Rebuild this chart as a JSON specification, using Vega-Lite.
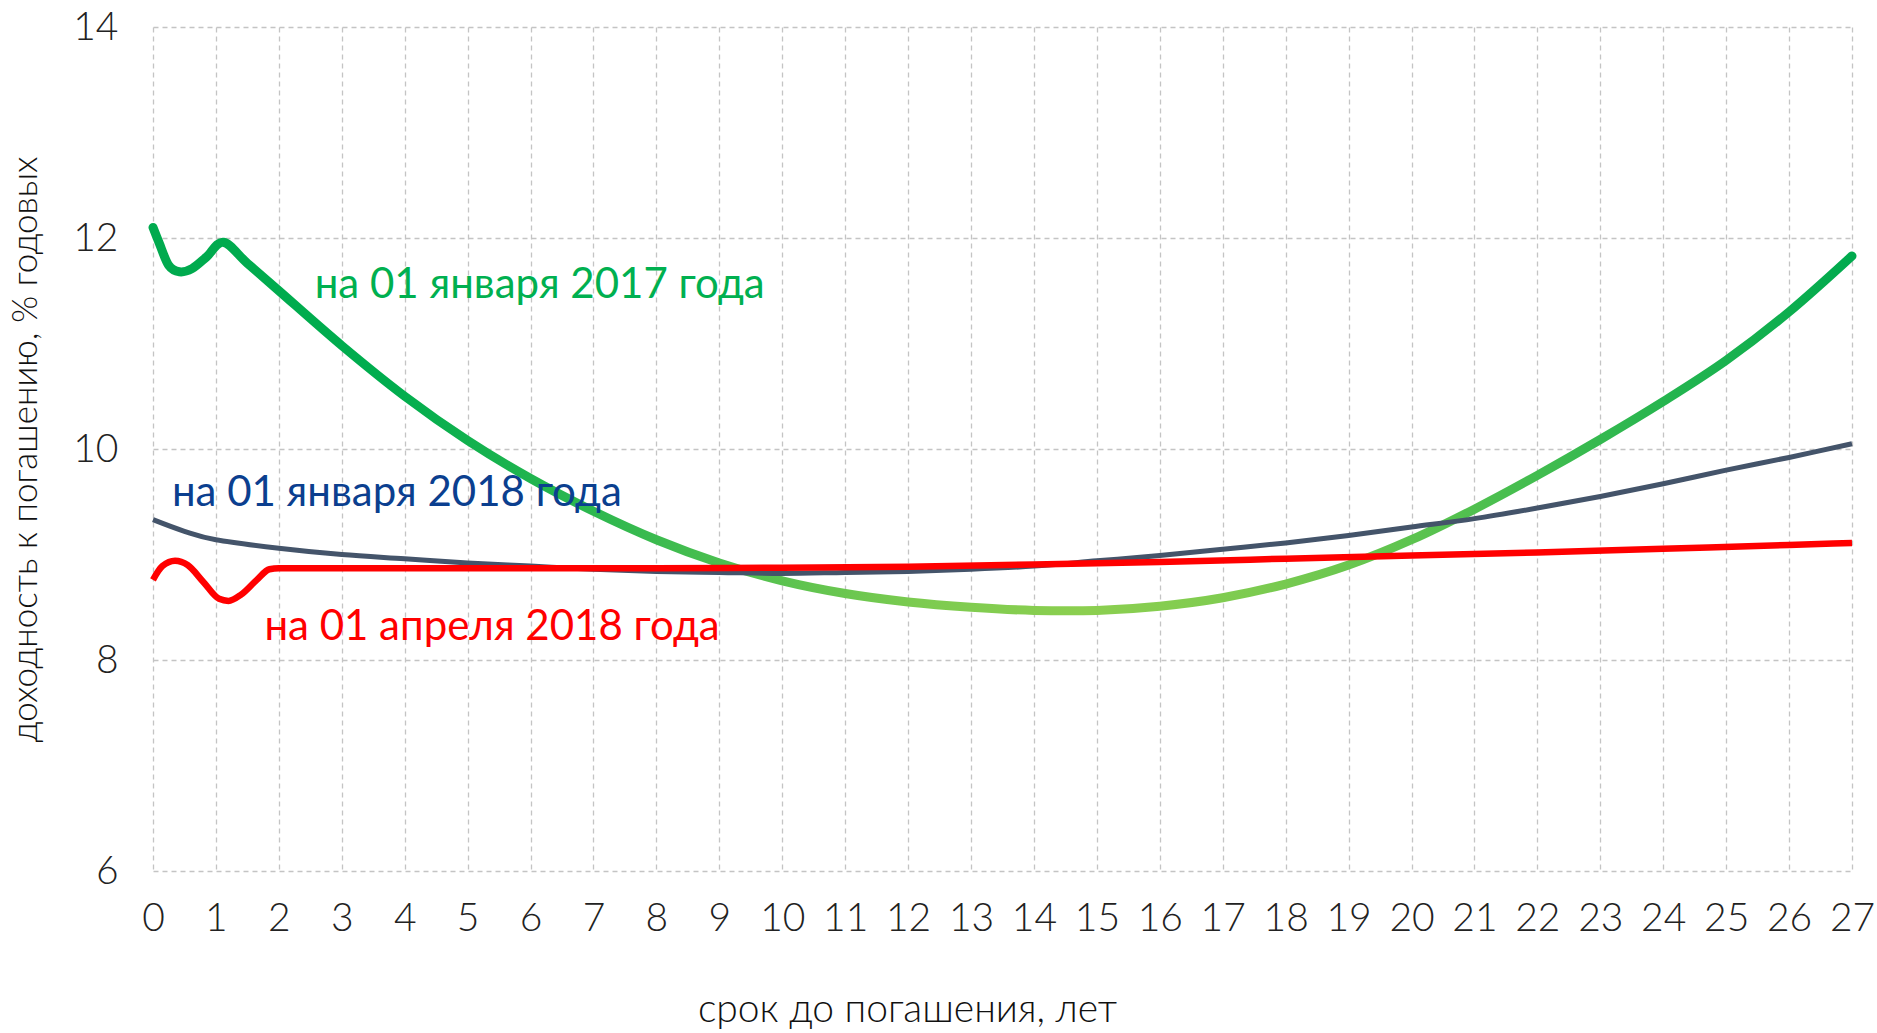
{
  "$schema": "https://vega.github.io/schema/vega-lite/v6.json",
  "width": 1699,
  "height": 844,
  "autosize": "none",
  "padding": {"left": 153, "top": 27, "right": 25, "bottom": 162},
  "background": "white",
  "config": {
    "view": {"stroke": null},
    "axis": {
      "domain": false,
      "ticks": false,
      "grid": true,
      "gridColor": "#c4c4c4",
      "gridDash": [5, 4],
      "gridWidth": 1.3,
      "labelFont": "Lato",
      "labelFontWeight": 300,
      "labelFontSize": 39,
      "labelColor": "#222222",
      "titleFont": "Lato",
      "titleFontWeight": 300,
      "titleColor": "#111111"
    }
  },
  "datasets": {
    "curves": [
      {"series": "2017", "t": 0, "y": 12.1},
      {"series": "2017", "t": 0.1, "y": 11.95},
      {"series": "2017", "t": 0.25, "y": 11.74},
      {"series": "2017", "t": 0.42, "y": 11.68},
      {"series": "2017", "t": 0.62, "y": 11.71},
      {"series": "2017", "t": 0.85, "y": 11.82},
      {"series": "2017", "t": 1.12, "y": 11.96},
      {"series": "2017", "t": 1.5, "y": 11.76},
      {"series": "2017", "t": 2, "y": 11.5},
      {"series": "2017", "t": 3, "y": 10.98},
      {"series": "2017", "t": 4, "y": 10.5},
      {"series": "2017", "t": 5, "y": 10.08},
      {"series": "2017", "t": 6, "y": 9.72},
      {"series": "2017", "t": 7, "y": 9.41},
      {"series": "2017", "t": 8, "y": 9.14},
      {"series": "2017", "t": 9, "y": 8.92},
      {"series": "2017", "t": 10, "y": 8.75},
      {"series": "2017", "t": 11, "y": 8.63},
      {"series": "2017", "t": 12, "y": 8.55},
      {"series": "2017", "t": 13, "y": 8.5},
      {"series": "2017", "t": 14, "y": 8.47},
      {"series": "2017", "t": 15, "y": 8.47},
      {"series": "2017", "t": 16, "y": 8.51},
      {"series": "2017", "t": 17, "y": 8.59},
      {"series": "2017", "t": 18, "y": 8.72},
      {"series": "2017", "t": 19, "y": 8.9},
      {"series": "2017", "t": 20, "y": 9.14},
      {"series": "2017", "t": 21, "y": 9.43},
      {"series": "2017", "t": 22, "y": 9.75},
      {"series": "2017", "t": 23, "y": 10.09},
      {"series": "2017", "t": 24, "y": 10.45},
      {"series": "2017", "t": 25, "y": 10.84},
      {"series": "2017", "t": 26, "y": 11.3},
      {"series": "2017", "t": 27, "y": 11.83},

      {"series": "jan2018", "t": 0, "y": 9.33},
      {"series": "jan2018", "t": 0.5, "y": 9.22},
      {"series": "jan2018", "t": 1, "y": 9.14},
      {"series": "jan2018", "t": 2, "y": 9.06},
      {"series": "jan2018", "t": 3, "y": 9.0},
      {"series": "jan2018", "t": 4, "y": 8.96},
      {"series": "jan2018", "t": 5, "y": 8.92},
      {"series": "jan2018", "t": 6, "y": 8.89},
      {"series": "jan2018", "t": 7, "y": 8.86},
      {"series": "jan2018", "t": 8, "y": 8.84},
      {"series": "jan2018", "t": 9, "y": 8.83},
      {"series": "jan2018", "t": 10, "y": 8.82},
      {"series": "jan2018", "t": 11, "y": 8.83},
      {"series": "jan2018", "t": 12, "y": 8.84},
      {"series": "jan2018", "t": 13, "y": 8.86},
      {"series": "jan2018", "t": 14, "y": 8.89},
      {"series": "jan2018", "t": 15, "y": 8.94},
      {"series": "jan2018", "t": 16, "y": 8.99},
      {"series": "jan2018", "t": 17, "y": 9.05},
      {"series": "jan2018", "t": 18, "y": 9.11},
      {"series": "jan2018", "t": 19, "y": 9.18},
      {"series": "jan2018", "t": 20, "y": 9.26},
      {"series": "jan2018", "t": 21, "y": 9.34},
      {"series": "jan2018", "t": 22, "y": 9.44},
      {"series": "jan2018", "t": 23, "y": 9.55},
      {"series": "jan2018", "t": 24, "y": 9.67},
      {"series": "jan2018", "t": 25, "y": 9.8},
      {"series": "jan2018", "t": 26, "y": 9.92},
      {"series": "jan2018", "t": 27, "y": 10.05},

      {"series": "apr2018", "t": 0, "y": 8.76},
      {"series": "apr2018", "t": 0.15, "y": 8.89},
      {"series": "apr2018", "t": 0.35, "y": 8.94},
      {"series": "apr2018", "t": 0.55, "y": 8.9},
      {"series": "apr2018", "t": 0.8, "y": 8.74},
      {"series": "apr2018", "t": 1.05, "y": 8.58},
      {"series": "apr2018", "t": 1.2, "y": 8.56},
      {"series": "apr2018", "t": 1.4, "y": 8.62},
      {"series": "apr2018", "t": 1.65, "y": 8.76},
      {"series": "apr2018", "t": 1.85, "y": 8.86},
      {"series": "apr2018", "t": 2, "y": 8.87},
      {"series": "apr2018", "t": 4, "y": 8.87},
      {"series": "apr2018", "t": 6, "y": 8.87},
      {"series": "apr2018", "t": 8, "y": 8.87},
      {"series": "apr2018", "t": 10, "y": 8.875},
      {"series": "apr2018", "t": 12, "y": 8.885},
      {"series": "apr2018", "t": 14, "y": 8.905},
      {"series": "apr2018", "t": 16, "y": 8.93},
      {"series": "apr2018", "t": 18, "y": 8.96},
      {"series": "apr2018", "t": 20, "y": 8.99},
      {"series": "apr2018", "t": 22, "y": 9.02},
      {"series": "apr2018", "t": 24, "y": 9.055},
      {"series": "apr2018", "t": 26, "y": 9.09},
      {"series": "apr2018", "t": 27, "y": 9.11}
    ],
    "labels": [
      {"label": "на 01 января 2017 года", "t": 2.57, "y": 11.555, "series": "2017"},
      {"label": "на 01 января 2018 года", "t": 0.3, "y": 9.583, "series": "jan2018"},
      {"label": "на 01 апреля 2018 года", "t": 1.77, "y": 8.313, "series": "apr2018"}
    ]
  },
  "data": {"name": "curves"},
  "encoding": {
    "x": {
      "field": "t",
      "type": "quantitative",
      "scale": {"domain": [0, 27], "nice": false, "zero": false},
      "axis": {
        "values": [0,1,2,3,4,5,6,7,8,9,10,11,12,13,14,15,16,17,18,19,20,21,22,23,24,25,26,27],
        "labelPadding": 28,
        "labelFlush": false,
        "labelOverlap": false,
        "title": "срок до погашения, лет",
        "titleFontSize": 39,
        "titleX": 754,
        "titleY": 138,
        "titleBaseline": "middle",
        "titleAnchor": "middle"
      }
    },
    "y": {
      "field": "y",
      "type": "quantitative",
      "scale": {"domain": [6, 14], "nice": false, "zero": false},
      "axis": {
        "values": [6, 8, 10, 12, 14],
        "labelPadding": 35,
        "title": "доходность к погашению, % годовых",
        "titleFontSize": 35,
        "titleX": -128,
        "titleY": 422,
        "titleBaseline": "middle",
        "titleAnchor": "middle"
      }
    }
  },
  "layer": [
    {
      "transform": [{"filter": "datum.series === '2017'"}],
      "mark": {
        "type": "line",
        "interpolate": "cardinal",
        "strokeWidth": 9,
        "strokeCap": "round",
        "stroke": {
          "gradient": "linear",
          "x1": 0, "y1": 0, "x2": 1, "y2": 0,
          "stops": [
            {"offset": 0, "color": "#00aa4e"},
            {"offset": 0.14, "color": "#00ad4e"},
            {"offset": 0.3, "color": "#3dbb4f"},
            {"offset": 0.45, "color": "#7ccb50"},
            {"offset": 0.55, "color": "#8ccf50"},
            {"offset": 0.65, "color": "#7ccb50"},
            {"offset": 0.78, "color": "#4fc04f"},
            {"offset": 0.9, "color": "#22b44f"},
            {"offset": 1, "color": "#00aa4e"}
          ]
        }
      }
    },
    {
      "transform": [{"filter": "datum.series === 'jan2018'"}],
      "mark": {"type": "line", "interpolate": "cardinal", "strokeWidth": 5, "color": "#44546a"}
    },
    {
      "transform": [{"filter": "datum.series === 'apr2018'"}],
      "mark": {"type": "line", "interpolate": "monotone", "strokeWidth": 6.5, "color": "#ff0000"}
    },
    {
      "data": {"name": "labels"},
      "mark": {"type": "text", "align": "left", "baseline": "middle", "font": "Lato", "fontSize": 42},
      "encoding": {
        "text": {"field": "label"},
        "color": {
          "field": "series",
          "type": "nominal",
          "scale": {"domain": ["2017", "jan2018", "apr2018"], "range": ["#00b050", "#0b3f8f", "#ff0000"]},
          "legend": null
        }
      }
    }
  ]
}
